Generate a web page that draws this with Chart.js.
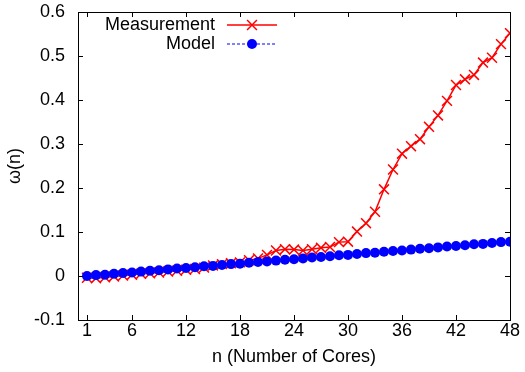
<!DOCTYPE html>
<html>
<head>
<meta charset="utf-8">
<script src="https://cdn.jsdelivr.net/npm/chart.js@4.4.1/dist/chart.umd.min.js"></script>
<style>
  html, body { margin: 0; padding: 0; background: #fff; }
  #wrap { width: 525px; height: 372px; }
</style>
</head>
<body>
<div id="wrap"><canvas id="omegaChart" width="525" height="372"></canvas></div>
<script>
// Cores 1..48
const cores = [1, 2, 3, 4, 5, 6, 7, 8, 9, 10, 11, 12, 13, 14, 15, 16, 17, 18, 19, 20, 21, 22, 23, 24,
               25, 26, 27, 28, 29, 30, 31, 32, 33, 34, 35, 36, 37, 38, 39, 40, 41, 42, 43, 44, 45, 46, 47, 48];

const measurement = [-0.004, -0.005, -0.003, -0.001, 0.001, 0.003, 0.005, 0.006, 0.008, 0.010, 0.012, 0.014,
                     0.016, 0.019, 0.024, 0.027, 0.029, 0.031, 0.036, 0.040, 0.048, 0.058, 0.061, 0.060,
                     0.058, 0.061, 0.064, 0.066, 0.077, 0.078, 0.101, 0.120, 0.146, 0.197, 0.242, 0.278,
                     0.295, 0.311, 0.339, 0.365, 0.398, 0.434, 0.447, 0.457, 0.485, 0.496, 0.527, 0.552];

// model omega(n)
const model = [0.000, 0.002, 0.003, 0.005, 0.007, 0.008, 0.010, 0.012, 0.013, 0.015, 0.017, 0.018,
               0.020, 0.022, 0.023, 0.025, 0.027, 0.028, 0.030, 0.032, 0.033, 0.035, 0.037, 0.038,
               0.040, 0.042, 0.043, 0.045, 0.047, 0.048, 0.050, 0.052, 0.053, 0.055, 0.057, 0.058,
               0.060, 0.062, 0.063, 0.065, 0.067, 0.068, 0.070, 0.072, 0.073, 0.075, 0.077, 0.078];

const xTicks = [1, 6, 12, 18, 24, 30, 36, 42, 48];

const FONT = '"Liberation Sans", Arial, Helvetica, sans-serif';

// gnuplot style frame: box border + inward ticks + legend inside
const framePlugin = {
    id: 'frame',
    afterDatasetsDraw(chart) {
        const ctx = chart.ctx;
        const a = chart.chartArea;
        const xs = chart.scales.x;
        const ys = chart.scales.y;
        const len = 5;
        ctx.save();
        ctx.strokeStyle = '#000';
        ctx.lineWidth = 1;
        ctx.beginPath();
        xs.ticks.forEach(t => {
            const px = Math.round(xs.getPixelForValue(t.value)) + 0.5;
            ctx.moveTo(px, a.bottom); ctx.lineTo(px, a.bottom - len);
            ctx.moveTo(px, a.top); ctx.lineTo(px, a.top + len);
        });
        ys.ticks.forEach(t => {
            const py = Math.round(ys.getPixelForValue(t.value)) + 0.5;
            ctx.moveTo(a.left, py); ctx.lineTo(a.left + len, py);
            ctx.moveTo(a.right, py); ctx.lineTo(a.right - len, py);
        });
        ctx.stroke();
        ctx.strokeRect(Math.round(a.left) + 0.5, Math.round(a.top) + 0.5,
                       Math.round(a.right - a.left), Math.round(a.bottom - a.top));

        // legend
        ctx.font = '18px ' + FONT;
        ctx.textAlign = 'right';
        ctx.textBaseline = 'middle';
        const textX = 215, x0 = 227, x1 = 277, xm = (x0 + x1) / 2;
        chart.data.datasets.forEach((ds, i) => {
            const y = 25 + i * 19;
            ctx.fillStyle = '#000';
            ctx.fillText(ds.label, textX, y);
            ctx.strokeStyle = ds.borderColor;
            ctx.lineWidth = ds.borderWidth;
            ctx.setLineDash(ds.borderDash || []);
            ctx.beginPath();
            ctx.moveTo(x0, y); ctx.lineTo(x1, y);
            ctx.stroke();
            ctx.setLineDash([]);
            ctx.fillStyle = ds.pointBackgroundColor;
            ctx.lineWidth = ds.pointBorderWidth || 1.5;
            Chart.helpers.drawPoint(ctx, {
                pointStyle: ds.pointStyle,
                radius: ds.pointRadius,
                borderWidth: ds.pointBorderWidth,
                rotation: 0
            }, xm, y);
        });
        ctx.restore();
    }
};

function initializeOmegaChart() {
    const data = {
        datasets: [{
            label: 'Measurement',
            data: cores.map((n, i) => ({ x: n, y: measurement[i] })),
            borderColor: '#ff0000',
            backgroundColor: '#ff0000',
            pointBackgroundColor: '#ff0000',
            borderWidth: 1.5,
            pointStyle: 'crossRot',
            pointRadius: 7,
            pointBorderWidth: 1.5,
            tension: 0,
            order: 1,
        }, {
            label: 'Model',
            data: cores.map((n, i) => ({ x: n, y: model[i] })),
            borderColor: '#0000ff',
            backgroundColor: '#0000ff',
            pointBackgroundColor: '#0000ff',
            borderWidth: 1,
            borderDash: [3, 2],
            pointStyle: 'circle',
            pointRadius: 5,
            pointBorderWidth: 0,
            tension: 0,
            order: 0,
        }]
    };

    const config = {
        type: 'line',
        data: data,
        options: {
            responsive: false,
            animation: false,
            devicePixelRatio: 1,
            layout: { padding: { top: 12, right: 15, left: 0, bottom: 0 } },
            plugins: {
                legend: { display: false },
                tooltip: { enabled: false },
            },
            scales: {
                x: {
                    type: 'linear',
                    min: 0,
                    max: 48,
                    afterBuildTicks: scale => { scale.ticks = xTicks.map(v => ({ value: v })); },
                    afterFit: scale => { scale.height = 52; },
                    grid: { display: false, drawTicks: false },
                    border: { display: false },
                    ticks: { color: '#000', padding: 0, font: { family: FONT, size: 18 }, maxRotation: 0, autoSkip: false },
                    title: {
                        display: true,
                        text: 'n (Number of Cores)',
                        color: '#000',
                        font: { family: FONT, size: 18 },
                        padding: { top: 0, bottom: 4 },
                    },
                },
                y: {
                    min: -0.1,
                    max: 0.6,
                    afterFit: scale => {
                        scale.width = 78;
                        scale.paddingTop = 0;   // let layout padding decide the top edge
                        scale.paddingBottom = 0;
                    },
                    grid: { display: false, drawTicks: false },
                    border: { display: false },
                    ticks: {
                        color: '#000',
                        stepSize: 0.1,
                        padding: 13,
                        font: { family: FONT, size: 18 },
                        callback: v => String(Math.round(v * 10) / 10),
                    },
                    title: {
                        display: true,
                        text: 'ω(n)',
                        color: '#000',
                        font: { family: FONT, size: 18 },
                        padding: { top: 4, bottom: 0 },
                    },
                },
            },
        },
        plugins: [framePlugin],
    };

    const ctx = document.getElementById('omegaChart').getContext('2d');
    const omegaChart = new Chart(ctx, config);
}

document.addEventListener('DOMContentLoaded', initializeOmegaChart);
</script>
</body>
</html>
